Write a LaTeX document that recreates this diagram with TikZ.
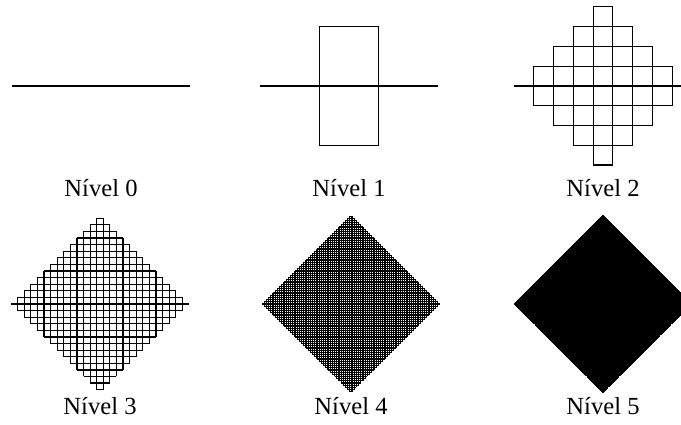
\documentclass[tikz,border=0pt]{standalone}
\usepackage{fontspec}
\setmainfont{Liberation Serif}
\tikzset{
  curve/.style={line width=0.34pt,black},
  lbl/.style={font=\fontsize{7}{8}\selectfont,anchor=base,inner sep=0pt},
}
\begin{document}
\begin{tikzpicture}
  \clip (0,0) rectangle (6.81,4.25);
  % level / centre x / axis y / label baseline
  \foreach \n/\cx/\cy/\ly in {0/1.01/3.39/2.28,1/3.49/3.39/2.28,2/6.03/3.39/2.28,
                              3/1.00/1.21/0.10,4/3.51/1.21/0.10,5/6.03/1.21/0.10}{
    \pgfmathtruncatemacro\N{3^\n}
    \pgfmathsetmacro\u{1.78/\N}
    \begin{scope}[shift={(\cx-0.89,\cy)},x=\u cm,y=\u cm,curve]
      \draw (0,0) -- (\N,0);
      \ifnum\N>1
        \pgfmathtruncatemacro\Nm{\N-1}
        \pgfmathtruncatemacro\M{(\N-1)/2}
        \foreach \k in {1,...,\Nm}{
          \pgfmathtruncatemacro\h{min(\k,\N-\k)}
          \draw (\k,-\h) -- (\k,\h);}
        \foreach \j in {1,...,\M}{
          \draw (\j,\j) -- (\N-\j,\j) (\j,-\j) -- (\N-\j,-\j);}
      \fi
    \end{scope}
    \node[lbl] (nivel\n) at (\cx,\ly) {Nível \n};
  }
\end{tikzpicture}
\end{document}
